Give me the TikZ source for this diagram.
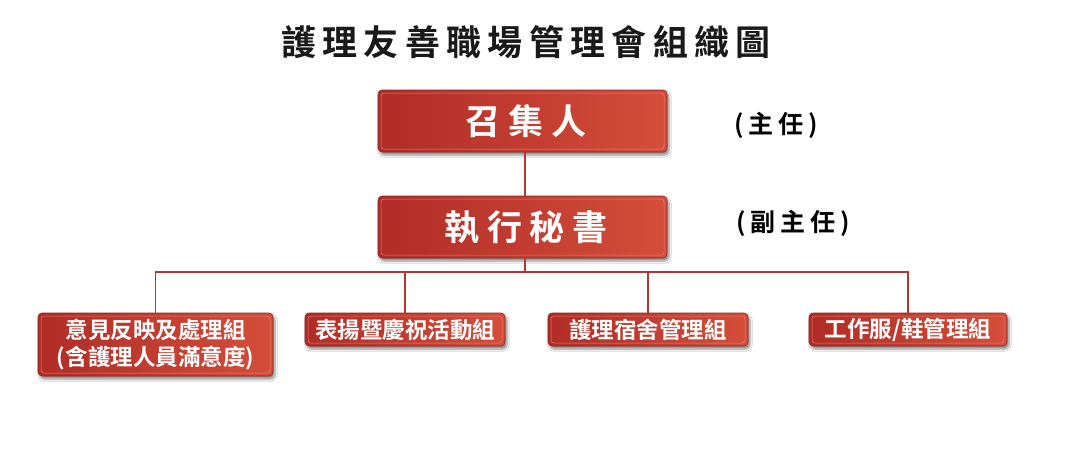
\documentclass[tikz,border=0pt]{standalone}
\usepackage{fontspec}
\setmainfont{Noto Sans CJK TC Bold}
\newfontfamily\widefont{Noto Sans CJK TC Bold}[LetterSpace=18]
\newfontfamily\midfont{Noto Sans CJK TC Bold}[LetterSpace=22]
\newfontfamily\notefont{Noto Sans CJK TC Bold}[LetterSpace=20]
\usetikzlibrary{shadows.blur}
\definecolor{boxdark}{HTML}{B02C26}
\definecolor{boxlight}{HTML}{D44E3A}
\definecolor{lineclr}{HTML}{B83430}
\definecolor{innerclr}{HTML}{E88070}
\tikzset{
  redbox/.style={rectangle, rounded corners=4pt, left color=boxdark, right color=boxlight,
    draw=boxdark!80!black, line width=0.6pt, text=white, inner sep=0pt,
    blur shadow={shadow xshift=2pt, shadow yshift=-3pt, shadow blur steps=6, shadow opacity=45},
    path picture={\draw[innerclr, line width=0.5pt, rounded corners=3pt]
      ([shift={(3pt,3pt)}]path picture bounding box.south west) rectangle
      ([shift={(-3pt,-3pt)}]path picture bounding box.north east);}},
  bigbox/.style={redbox, minimum width=289pt, minimum height=62pt, font=\midfont\fontsize{35}{40}\selectfont},
  smallbox/.style={redbox, minimum width=200pt, minimum height=33pt, font=\fontsize{22.5}{26}\selectfont},
  conn/.style={draw=lineclr, line width=1.8pt},
  note/.style={font=\notefont\fontsize{25}{29}\selectfont, text=black, inner sep=0pt}
}
\begin{document}
\begin{tikzpicture}[x=1pt,y=-1pt]
\useasboundingbox (0,0) rectangle (1070,467);
\fill[white] (0,0) rectangle (1070,467);
\node[font=\widefont\fontsize{35}{40}\selectfont, text=black!90, inner sep=0pt] (title) at (526,42) {護理友善職場管理會組織圖};
\node[bigbox] (conv) at (522.5,121) {\hspace*{7pt}召集人};
\node[bigbox] (sec) at (522.5,227) {\hspace*{7pt}執行秘書};
\node[note] (n1) at (776,125) {(主任)};
\node[note] (n2) at (793,223) {(副主任)};
\node[redbox, minimum width=235pt, minimum height=63pt, align=center,
  font=\fontsize{22.5}{27}\selectfont] (ga) at (155.5,344.5) {意見反映及處理組\\(含護理人員滿意度)};
\node[smallbox] (gb) at (405,329.5) {表揚暨慶祝活動組};
\node[smallbox] (gc) at (648,329.5) {護理宿舍管理組};
\node[smallbox, minimum width=198pt] (gd) at (908,329.5) {工作服/鞋管理組};
\coordinate (bus) at (525,272);
\draw[conn] (conv.south -| bus) -- (sec.north -| bus);
\draw[conn] (sec.south -| bus) -- (bus);
\draw[conn] (ga.north) -- (ga.north |- bus) -- (gd.north |- bus) -- (gd.north);
\draw[conn] (gb.north) -- (gb.north |- bus);
\draw[conn] (gc.north) -- (gc.north |- bus);
\end{tikzpicture}
\end{document}
